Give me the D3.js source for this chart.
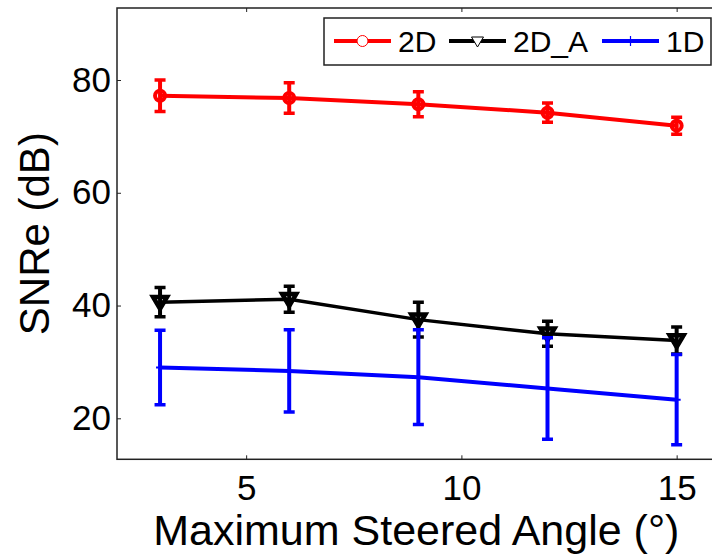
<!DOCTYPE html>
<html>
<head>
<meta charset="utf-8">
<script src="https://cdn.jsdelivr.net/npm/d3@7"></script>
<style>
  body { margin: 0; background: #fff; }
  svg { display: block; font-family: "Liberation Sans", Arial, sans-serif; }
</style>
</head>
<body>
<svg id="chart" width="712" height="559"></svg>
<script>
// data
const angles = [3, 6, 9, 12, 15];
const snr2D = [77.2, 76.8, 75.7, 74.2, 71.9];
const err2D = [2.8, 2.7, 2.2, 1.7, 1.5];
const snr2DA = [40.6, 41.1, 37.5, 35.0, 33.8];
const err2DA = [2.6, 2.3, 3.1, 2.2, 2.4];
const snr1D = [29.0, 28.4, 27.3, 25.3, 23.3];
const err1D = [6.6, 7.3, 8.4, 9.0, 8.0];
const xTicks = [5, 10, 15];
const yTicks = [20, 40, 60, 80];

const series = [
  { name: "2D", color: "#ff0000", marker: "circle", values: snr2D, errors: err2D },
  { name: "2D_A", color: "#000000", marker: "triangle", values: snr2DA, errors: err2DA },
  { name: "1D", color: "#0000ff", marker: "plus", values: snr1D, errors: err1D }
];

const svg = d3.select("#chart");
const margin = { left: 117, top: 8, right: 719.7, bottom: 459.3 };

const x = d3.scaleLinear().domain([2, 16]).range([margin.left, margin.right]);
const y = d3.scaleLinear().domain([12.73, 92.77]).range([margin.bottom, margin.top]);

const clipId = "plotclip";
svg.append("clipPath").attr("id", clipId)
  .append("rect")
  .attr("x", margin.left).attr("y", margin.top)
  .attr("width", margin.right - margin.left).attr("height", margin.bottom - margin.top);

// axes box
svg.append("rect")
  .attr("x", margin.left).attr("y", margin.top)
  .attr("width", margin.right - margin.left).attr("height", margin.bottom - margin.top)
  .attr("fill", "none").attr("stroke", "#222").attr("stroke-width", 1.5);

// ticks inside, MATLAB style
const tickLen = 4;
const bottomAxis = d3.axisBottom(x).tickValues(xTicks).tickSize(-tickLen).tickPadding(16);
svg.append("g").attr("transform", `translate(0,${margin.bottom})`).call(bottomAxis)
  .call(g => g.select(".domain").remove())
  .call(g => g.selectAll("text").attr("font-size", 35).attr("fill", "#000").attr("dy", "0.71em"))
  .call(g => g.selectAll("line").attr("stroke", "#222"));

const topAxis = d3.axisTop(x).tickValues(xTicks).tickSize(-tickLen).tickFormat("");
svg.append("g").attr("transform", `translate(0,${margin.top})`).call(topAxis)
  .call(g => g.select(".domain").remove())
  .call(g => g.selectAll("line").attr("stroke", "#222"));

const leftAxis = d3.axisLeft(y).tickValues(yTicks).tickSize(-tickLen).tickPadding(6);
svg.append("g").attr("transform", `translate(${margin.left},0)`).call(leftAxis)
  .call(g => g.select(".domain").remove())
  .call(g => g.selectAll("text").attr("font-size", 35).attr("fill", "#000"))
  .call(g => g.selectAll("line").attr("stroke", "#222"));

const rightAxis = d3.axisRight(y).tickValues(yTicks).tickSize(-tickLen).tickFormat("");
svg.append("g").attr("transform", `translate(${margin.right},0)`).call(rightAxis)
  .call(g => g.select(".domain").remove())
  .call(g => g.selectAll("line").attr("stroke", "#222"));

// axis labels
svg.append("text")
  .attr("x", (margin.left + margin.right) / 2 - 2).attr("y", 545)
  .attr("text-anchor", "middle").attr("font-size", 43)
  .text("Maximum Steered Angle (\u00b0)");

svg.append("text")
  .attr("transform", `translate(49,${(margin.top + margin.bottom) / 2}) rotate(-90)`)
  .attr("text-anchor", "middle").attr("font-size", 42)
  .text("SNRe (dB)");

function drawMarker(g, type, color, size, strokeW) {
  if (type === "circle") {
    g.append("circle").attr("r", size).attr("fill", "none")
      .attr("stroke", color).attr("stroke-width", strokeW);
  } else if (type === "triangle") {
    const s = size;
    g.append("path").attr("d", `M${-s},${-s * 0.75}L${s},${-s * 0.75}L0,${s * 0.95}Z`)
      .attr("fill", "none").attr("stroke", color).attr("stroke-width", strokeW)
      .attr("stroke-linejoin", "miter");
  } else {
    g.append("path").attr("d", `M${-size},0H${size}M0,${-size}V${size}`)
      .attr("stroke", color).attr("stroke-width", strokeW);
  }
}

const plot = svg.append("g").attr("clip-path", `url(#${clipId})`);
const line = d3.line().x(d => x(d[0])).y(d => y(d[1]));
const capHalf = 5.5;

series.forEach(s => {
  const pts = angles.map((a, i) => [a, s.values[i], s.errors[i]]);
  const g = plot.append("g");

  // error bars
  pts.forEach(p => {
    const px = x(p[0]);
    g.append("line").attr("x1", px).attr("x2", px)
      .attr("y1", y(p[1] + p[2])).attr("y2", y(p[1] - p[2]))
      .attr("stroke", s.color).attr("stroke-width", 4);
    [p[1] + p[2], p[1] - p[2]].forEach(v => {
      g.append("line").attr("x1", px - capHalf).attr("x2", px + capHalf)
        .attr("y1", y(v)).attr("y2", y(v))
        .attr("stroke", s.color).attr("stroke-width", 3.5);
    });
  });

  g.append("path").datum(pts).attr("d", line)
    .attr("fill", "none").attr("stroke", s.color).attr("stroke-width", s.name === "2D_A" ? 3.5 : 4);

  pts.forEach(p => {
    const m = g.append("g").attr("transform", `translate(${x(p[0])},${y(p[1])})`);
    if (s.marker === "circle") drawMarker(m, "circle", s.color, 5, 4);
    else if (s.marker === "triangle") drawMarker(m, "triangle", s.color, 7, 4.5);
    else drawMarker(m, "plus", s.color, 4, 2);
  });
});

// legend
const legend = svg.append("g");
legend.append("rect")
  .attr("x", 324).attr("y", 18).attr("width", 387).attr("height", 47)
  .attr("fill", "#fff").attr("stroke", "#222").attr("stroke-width", 1.5);

const legendX = [334, 449, 602];
series.forEach((s, i) => {
  const lx = legendX[i];
  const ly = 41;
  legend.append("line").attr("x1", lx).attr("x2", lx + 57).attr("y1", ly).attr("y2", ly)
    .attr("stroke", s.color).attr("stroke-width", 4);
  const m = legend.append("g").attr("transform", `translate(${lx + 28.5},${ly})`);
  if (s.marker === "circle") {
    m.append("circle").attr("r", 5.5).attr("fill", "#fff").attr("stroke", s.color).attr("stroke-width", 1);
  } else if (s.marker === "triangle") {
    m.append("path").attr("d", "M-6,-4L6,-4L0,6Z").attr("fill", "#fff")
      .attr("stroke", s.color).attr("stroke-width", 1);
  } else {
    m.append("path").attr("d", "M-4,0H4M0,-5V5").attr("stroke", s.color).attr("stroke-width", 1.2);
  }
  legend.append("text").attr("x", lx + 64).attr("y", 52)
    .attr("font-size", 30).attr("fill", "#000").text(s.name);
});
</script>
</body>
</html>
